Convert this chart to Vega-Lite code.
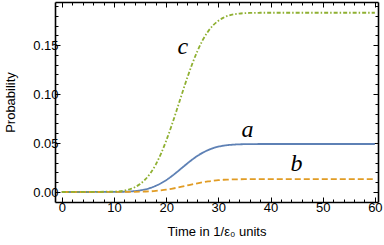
{
  "$schema": "https://vega.github.io/schema/vega-lite/v6.json",
  "width": 323,
  "height": 200,
  "autosize": {"type": "none"},
  "padding": {"left": 55, "top": 2, "right": 6, "bottom": 43},
  "config": {
    "view": {"stroke": null},
    "axis": {"labelFont": "Liberation Sans", "titleFont": "Liberation Sans", "labelColor": "black", "titleColor": "black", "titleFontWeight": "normal", "grid": false, "domainColor": "black", "tickColor": "black", "domainWidth": 1.6, "tickWidth": 1, "labelFontSize": 13, "titleFontSize": 13}
  },
  "datasets": {
    "curves": [
      {"s": "a", "t": 0, "p": 0}, {"s": "a", "t": 10, "p": 0.0001}, {"s": "a", "t": 12, "p": 0.0003}, {"s": "a", "t": 14, "p": 0.001}, {"s": "a", "t": 15, "p": 0.0017}, {"s": "a", "t": 16, "p": 0.0027}, {"s": "a", "t": 17, "p": 0.0042}, {"s": "a", "t": 18, "p": 0.0063}, {"s": "a", "t": 19, "p": 0.0089}, {"s": "a", "t": 20, "p": 0.0121}, {"s": "a", "t": 21, "p": 0.0159}, {"s": "a", "t": 22, "p": 0.0201}, {"s": "a", "t": 23, "p": 0.0245}, {"s": "a", "t": 24, "p": 0.0289}, {"s": "a", "t": 25, "p": 0.0331}, {"s": "a", "t": 26, "p": 0.0369}, {"s": "a", "t": 27, "p": 0.0401}, {"s": "a", "t": 28, "p": 0.0427}, {"s": "a", "t": 29, "p": 0.0448}, {"s": "a", "t": 30, "p": 0.0463}, {"s": "a", "t": 31, "p": 0.0473}, {"s": "a", "t": 32, "p": 0.048}, {"s": "a", "t": 33, "p": 0.0484}, {"s": "a", "t": 34, "p": 0.0487}, {"s": "a", "t": 36, "p": 0.0489}, {"s": "a", "t": 38, "p": 0.049}, {"s": "a", "t": 60, "p": 0.049},
      {"s": "b", "t": 0, "p": 0}, {"s": "b", "t": 13, "p": 0.0001}, {"s": "b", "t": 15, "p": 0.0003}, {"s": "b", "t": 16, "p": 0.0005}, {"s": "b", "t": 17, "p": 0.0007}, {"s": "b", "t": 18, "p": 0.0011}, {"s": "b", "t": 19, "p": 0.0017}, {"s": "b", "t": 20, "p": 0.0024}, {"s": "b", "t": 21, "p": 0.0033}, {"s": "b", "t": 22, "p": 0.0043}, {"s": "b", "t": 23, "p": 0.0054}, {"s": "b", "t": 24, "p": 0.0066}, {"s": "b", "t": 25, "p": 0.0078}, {"s": "b", "t": 26, "p": 0.0089}, {"s": "b", "t": 27, "p": 0.0099}, {"s": "b", "t": 28, "p": 0.0108}, {"s": "b", "t": 29, "p": 0.0115}, {"s": "b", "t": 30, "p": 0.0121}, {"s": "b", "t": 31, "p": 0.0125}, {"s": "b", "t": 32, "p": 0.0127}, {"s": "b", "t": 33, "p": 0.0129}, {"s": "b", "t": 34, "p": 0.013}, {"s": "b", "t": 35, "p": 0.0131}, {"s": "b", "t": 37, "p": 0.0132}, {"s": "b", "t": 60, "p": 0.0132},
      {"s": "c", "t": 0, "p": 0}, {"s": "c", "t": 10, "p": 0.0004}, {"s": "c", "t": 12, "p": 0.0015}, {"s": "c", "t": 13, "p": 0.0028}, {"s": "c", "t": 14, "p": 0.0049}, {"s": "c", "t": 15, "p": 0.0082}, {"s": "c", "t": 16, "p": 0.0128}, {"s": "c", "t": 17, "p": 0.0193}, {"s": "c", "t": 18, "p": 0.028}, {"s": "c", "t": 19, "p": 0.039}, {"s": "c", "t": 20, "p": 0.0522}, {"s": "c", "t": 21, "p": 0.0671}, {"s": "c", "t": 22, "p": 0.0832}, {"s": "c", "t": 23, "p": 0.0998}, {"s": "c", "t": 24, "p": 0.1159}, {"s": "c", "t": 25, "p": 0.1308}, {"s": "c", "t": 26, "p": 0.144}, {"s": "c", "t": 27, "p": 0.155}, {"s": "c", "t": 28, "p": 0.1637}, {"s": "c", "t": 29, "p": 0.1702}, {"s": "c", "t": 30, "p": 0.1748}, {"s": "c", "t": 31, "p": 0.1781}, {"s": "c", "t": 32, "p": 0.1802}, {"s": "c", "t": 33, "p": 0.1815}, {"s": "c", "t": 34, "p": 0.1822}, {"s": "c", "t": 35, "p": 0.1826}, {"s": "c", "t": 36, "p": 0.1828}, {"s": "c", "t": 38, "p": 0.183}, {"s": "c", "t": 60, "p": 0.183}
    ],
    "labels": [
      {"s": "a", "t": 35.6, "p": 0.063},
      {"s": "b", "t": 45.0, "p": 0.029},
      {"s": "c", "t": 23.2, "p": 0.148}
    ]
  },
  "resolve": {"axis": {"x": "independent", "y": "independent"}},
  "layer": [
    {
      "data": {"name": "curves"},
      "mark": {"type": "line", "strokeWidth": 1.8, "interpolate": "monotone"},
      "encoding": {
        "x": {"field": "t", "type": "quantitative", "scale": {"domain": [-1.3, 60.6], "nice": false, "zero": false},
          "axis": {"orient": "bottom", "title": "Time in 1/ε₀ units", "values": [0, 10, 20, 30, 40, 50, 60], "tickSize": -5, "labelPadding": 4, "titlePadding": 11, "labelFlush": false}},
        "y": {"field": "p", "type": "quantitative", "scale": {"domain": [-0.0102, 0.194], "nice": false, "zero": false},
          "axis": {"orient": "left", "title": "Probability", "values": [0, 0.05, 0.1, 0.15], "format": ".2f", "tickSize": -5, "labelPadding": 2, "titlePadding": 15, "labelFlush": false}},
        "color": {"field": "s", "type": "nominal", "scale": {"domain": ["a", "b", "c"], "range": ["#5E81B5", "#E19C24", "#8FB032"]}, "legend": null},
        "strokeDash": {"field": "s", "type": "nominal", "scale": {"domain": ["a", "b", "c"], "range": [[1, 0], [6, 3], [4, 2, 1.5, 2]]}, "legend": null}
      }
    },
    {
      "data": {"name": "curves"},
      "mark": {"type": "point", "opacity": 0},
      "encoding": {
        "x": {"field": "t", "type": "quantitative", "axis": {"orient": "top", "title": null, "labels": false, "values": [0, 10, 20, 30, 40, 50, 60], "tickSize": -5}},
        "y": {"field": "p", "type": "quantitative", "axis": {"orient": "right", "title": null, "labels": false, "values": [0, 0.05, 0.1, 0.15], "tickSize": -5}}
      }
    },
    {
      "data": {"name": "curves"},
      "mark": {"type": "point", "opacity": 0},
      "encoding": {
        "x": {"field": "t", "type": "quantitative", "axis": {"orient": "bottom", "title": null, "labels": false, "domain": false, "values": [2, 4, 6, 8, 12, 14, 16, 18, 22, 24, 26, 28, 32, 34, 36, 38, 42, 44, 46, 48, 52, 54, 56, 58], "tickSize": -3}},
        "y": {"field": "p", "type": "quantitative", "axis": {"orient": "left", "title": null, "labels": false, "domain": false, "values": [0.01, 0.02, 0.03, 0.04, 0.06, 0.07, 0.08, 0.09, 0.11, 0.12, 0.13, 0.14, 0.16, 0.17, 0.18, 0.19], "tickSize": -3}}
      }
    },
    {
      "data": {"name": "curves"},
      "mark": {"type": "point", "opacity": 0},
      "encoding": {
        "x": {"field": "t", "type": "quantitative", "axis": {"orient": "top", "title": null, "labels": false, "domain": false, "values": [2, 4, 6, 8, 12, 14, 16, 18, 22, 24, 26, 28, 32, 34, 36, 38, 42, 44, 46, 48, 52, 54, 56, 58], "tickSize": -3}},
        "y": {"field": "p", "type": "quantitative", "axis": {"orient": "right", "title": null, "labels": false, "domain": false, "values": [0.01, 0.02, 0.03, 0.04, 0.06, 0.07, 0.08, 0.09, 0.11, 0.12, 0.13, 0.14, 0.16, 0.17, 0.18, 0.19], "tickSize": -3}}
      }
    },
    {
      "data": {"name": "labels"},
      "mark": {"type": "text", "font": "Liberation Serif", "fontStyle": "italic", "fontSize": 24, "color": "black", "baseline": "middle", "align": "center"},
      "encoding": {
        "x": {"field": "t", "type": "quantitative", "axis": null},
        "y": {"field": "p", "type": "quantitative", "axis": null},
        "text": {"field": "s", "type": "nominal"}
      }
    }
  ]
}
